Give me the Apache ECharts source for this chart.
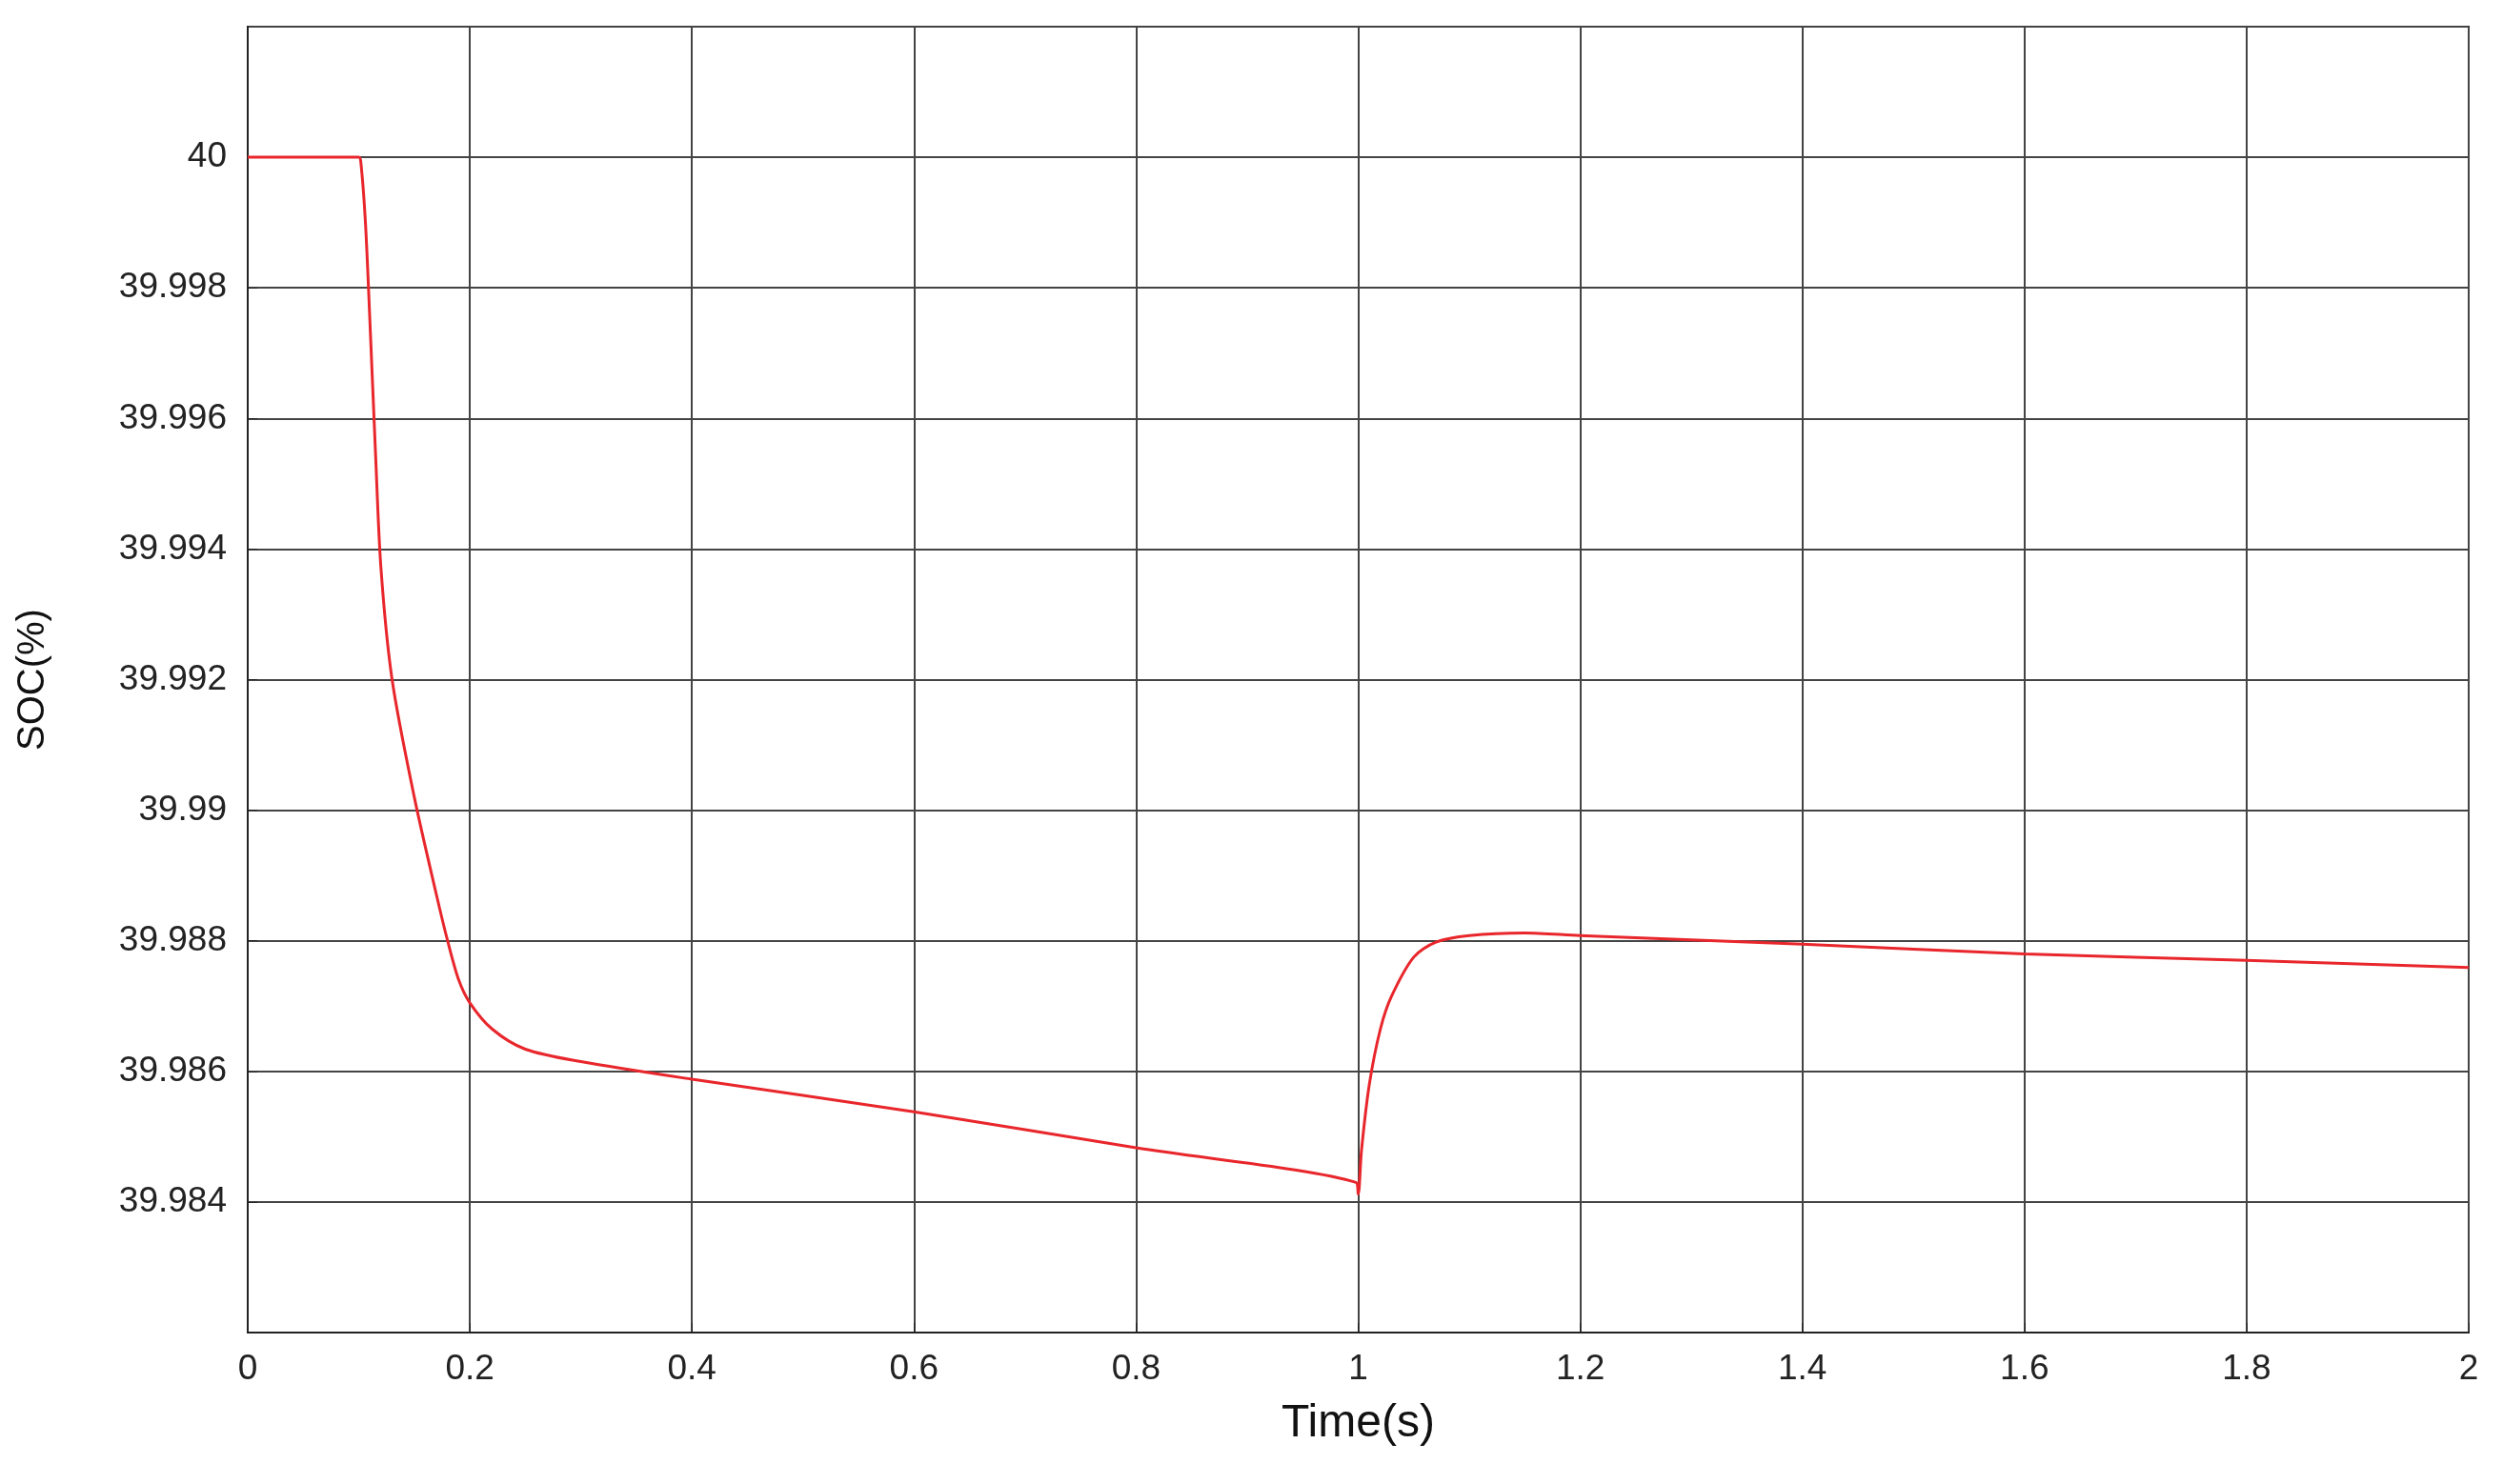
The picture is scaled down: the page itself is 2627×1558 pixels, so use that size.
<!DOCTYPE html>
<html><head><meta charset="utf-8">
<script src="https://cdn.jsdelivr.net/npm/echarts@6/dist/echarts.min.js"></script>
<style>html,body{margin:0;padding:0;background:#fff}#c{width:2627px;height:1558px}</style>
</head><body><div id="c"></div>
<script>
const timeS = [0,0.05,0.1,0.102,0.106,0.11,0.115,0.12,0.13,0.15,0.17,0.18,0.19,0.2,0.22,0.25,0.3,0.4,0.6,0.8,0.998,1.0,1.003,1.01,1.02,1.03,1.05,1.07,1.1,1.15,1.2,1.4,1.6,1.8,2.0];
const soc = [40,40,40,39.9999,39.9990,39.9975,39.9955,39.9937,39.9920,39.9902,39.9887,39.9880,39.9874,39.98705,39.98665,39.98634,39.98615,39.98588,39.98538,39.98483,39.98430,39.98412,39.98480,39.98580,39.98665,39.98715,39.98775,39.98798,39.98808,39.98812,39.98808,39.98795,39.98780,39.98770,39.98759];
const chart = echarts.init(document.getElementById('c'));
const font = 'Liberation Sans, Arial, sans-serif';
chart.setOption({
  animation:false,
  grid:{left:260,right:36,top:28,bottom:159,show:true,borderColor:'#222',borderWidth:2},
  xAxis:{type:'value',min:0,max:2,interval:0.2,name:'Time(s)',nameLocation:'middle',nameGap:72,
    nameTextStyle:{fontSize:48,color:'#111',fontFamily:font},
    axisLine:{lineStyle:{color:'#222',width:2}},axisTick:{inside:true,length:10,lineStyle:{color:'#222'}},
    axisLabel:{fontSize:37,color:'#222',fontFamily:font,margin:20},
    splitLine:{lineStyle:{color:'#444',width:2}}},
  yAxis:{type:'value',min:39.982,max:40.002,interval:0.002,name:'SOC(%)',nameLocation:'middle',nameGap:205,
    nameTextStyle:{fontSize:40,color:'#111',fontFamily:font},
    axisLine:{show:true,lineStyle:{color:'#222',width:2}},axisTick:{inside:true,length:10,lineStyle:{color:'#222'}},
    axisLabel:{fontSize:37,color:'#222',fontFamily:font,margin:22,showMinLabel:false,showMaxLabel:false},
    splitLine:{lineStyle:{color:'#444',width:2}}},
  series:[{type:'line',data:timeS.map((t,i)=>[t,soc[i]]),showSymbol:false,smooth:0.3,
    lineStyle:{color:'#e8262b',width:3}}]
});
</script></body></html>
